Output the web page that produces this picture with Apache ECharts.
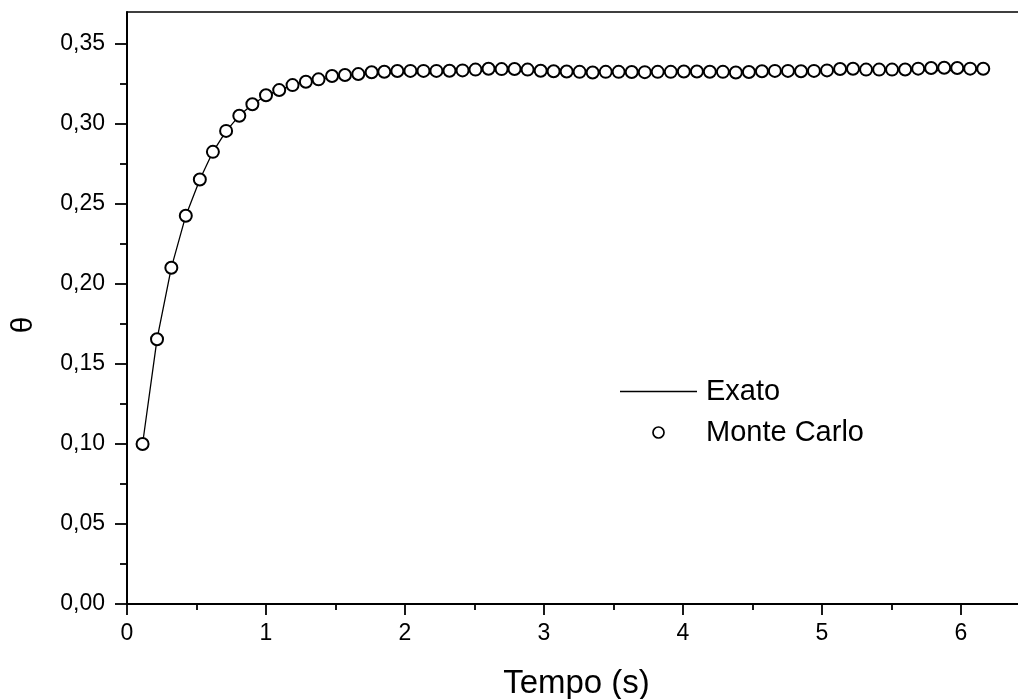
<!DOCTYPE html>
<html>
<head>
<meta charset="utf-8">
<script src="https://cdn.jsdelivr.net/npm/echarts@6/dist/echarts.min.js"></script>
<style>html,body{margin:0;padding:0;background:#fff}#c{width:1018px;height:699px}</style>
</head>
<body>
<div id="c"></div>
<script>
// Time values (s)
var tempo = [0.112,0.216,0.319,0.423,0.524,0.618,0.713,0.808,0.902,1.000,
  1.095,1.191,1.287,1.378,1.475,1.568,1.664,1.760,1.851,1.945,
  2.039,2.133,2.226,2.320,2.414,2.507,2.601,2.695,2.788,2.882,
  2.976,3.069,3.163,3.256,3.350,3.444,3.537,3.631,3.725,3.818,
  3.912,4.006,4.100,4.193,4.287,4.380,4.474,4.568,4.661,4.755,
  4.849,4.942,5.036,5.130,5.223,5.317,5.411,5.504,5.598,5.692,
  5.785,5.879,5.973,6.066,6.160];
// Monte Carlo values
var monteCarlo = [0.1000,0.1655,0.2102,0.2427,0.2653,0.2826,0.2957,0.3052,0.3123,0.3180,
  0.3212,0.3243,0.3264,0.3279,0.3300,0.3306,0.3312,0.3323,0.3327,0.3331,
  0.3332,0.3332,0.3332,0.3333,0.3335,0.3340,0.3345,0.3343,0.3344,0.3340,
  0.3333,0.3330,0.3328,0.3326,0.3322,0.3326,0.3326,0.3325,0.3324,0.3326,
  0.3326,0.3328,0.3328,0.3327,0.3326,0.3322,0.3325,0.3330,0.3332,0.3332,
  0.3330,0.3332,0.3335,0.3344,0.3345,0.3340,0.3340,0.3340,0.3341,0.3346,
  0.3350,0.3352,0.3350,0.3346,0.3345];
// Exact solution values
var exato = [0.1000,0.1655,0.2102,0.2427,0.2653,0.2826,0.2955,0.3052,0.3123,0.3177,
  0.3213,0.3242,0.3263,0.3279,0.3293,0.3303,0.3311,0.3317,0.3321,0.3324,
  0.3326,0.3328,0.3329,0.3330,0.3331,0.3331,0.3332,0.3332,0.3332,0.3332,
  0.3333,0.3333,0.3333,0.3333,0.3333,0.3333,0.3333,0.3333,0.3333,0.3333,
  0.3333,0.3333,0.3333,0.3333,0.3333,0.3333,0.3333,0.3333,0.3333,0.3333,
  0.3333,0.3333,0.3333,0.3333,0.3333,0.3333,0.3333,0.3333,0.3333,0.3333,
  0.3333,0.3333,0.3333,0.3333,0.3333];
var xMajorTicks = [0,1,2,3,4,5,6];
var xMinorTicks = [0.5,1.5,2.5,3.5,4.5,5.5];
var yMajorTicks = [0,0.05,0.10,0.15,0.20,0.25,0.30,0.35];
var yMinorTicks = [0.025,0.075,0.125,0.175,0.225,0.275,0.325];

var FONT = '"Liberation Sans", Arial, sans-serif';
var X_MAX = 6.41, Y_MAX = 0.37;
function pairs(xs, ys){ return xs.map(function(x,i){ return [x, ys[i]]; }); }

var chart = echarts.init(document.getElementById('c'), null, {renderer:'canvas'});
chart.setOption({
  animation: false,
  backgroundColor: '#fff',
  grid: {left:127, right:0, top:12, bottom:95, show:false, containLabel:false, outerBoundsMode:'none'},
  legend: {
    orient:'vertical', left:620, top:377, padding:0, itemWidth:77, itemHeight:11, itemGap:12,
    textStyle:{fontFamily:FONT, fontSize:29, color:'#000', padding:[0,0,0,4]},
    data:[
      {name:'Exato', icon:'path://M0,0 L77,0 L77,1.5 L0,1.5 Z', itemStyle:{color:'#000', borderWidth:0}},
      {name:'Monte Carlo', icon:'circle', itemStyle:{color:'#fff', borderColor:'#000', borderWidth:1.7}}
    ]
  },
  xAxis: [{
    type:'value', min:0, max:X_MAX, position:'bottom',
    name:'Tempo (s)', nameLocation:'middle', nameGap:63,
    nameTextStyle:{fontFamily:FONT, fontSize:33, color:'#000', padding:[0,0,0,8]},
    axisLine:{show:true, onZero:false, lineStyle:{color:'#000', width:2}},
    axisTick:{show:true, customValues:xMajorTicks, length:11, lineStyle:{color:'#000', width:1.8}},
    axisLabel:{customValues:xMajorTicks, fontFamily:FONT, fontSize:23, color:'#000', margin:18},
    splitLine:{show:false}
  },{
    type:'value', min:0, max:X_MAX, position:'bottom',
    axisLine:{show:false},
    axisTick:{show:true, customValues:xMinorTicks, length:6, lineStyle:{color:'#000', width:1.8}},
    axisLabel:{show:false},
    splitLine:{show:false}
  },{
    type:'value', min:0, max:X_MAX, position:'top',
    axisLine:{show:true, onZero:false, lineStyle:{color:'#000', width:1.5}},
    axisTick:{show:false}, axisLabel:{show:false}, splitLine:{show:false}
  }],
  yAxis: [{
    type:'value', min:0, max:Y_MAX, position:'left',
    name:'θ', nameLocation:'middle', nameGap:88, nameRotate:90,
    nameTextStyle:{fontFamily:FONT, fontSize:30, color:'#000', padding:[0,34,0,0]},
    axisLine:{show:true, onZero:false, lineStyle:{color:'#000', width:2}},
    axisTick:{show:true, customValues:yMajorTicks, length:12, lineStyle:{color:'#000', width:1.8}},
    axisLabel:{customValues:yMajorTicks, fontFamily:FONT, fontSize:23, color:'#000', margin:22,
      formatter:function(v){ return v.toFixed(2).replace('.', ','); }},
    splitLine:{show:false}
  },{
    type:'value', min:0, max:Y_MAX, position:'left',
    axisLine:{show:false},
    axisTick:{show:true, customValues:yMinorTicks, length:7, lineStyle:{color:'#000', width:1.8}},
    axisLabel:{show:false},
    splitLine:{show:false}
  }],
  series: [{
    name:'Exato', type:'line', xAxisIndex:0, yAxisIndex:0,
    data: pairs(tempo, exato), symbol:'none', showSymbol:false,
    lineStyle:{color:'#000', width:1.3}, itemStyle:{color:'#000'}, z:2
  },{
    name:'Monte Carlo', type:'scatter', xAxisIndex:0, yAxisIndex:0,
    data: pairs(tempo, monteCarlo), symbol:'circle', symbolSize:12,
    itemStyle:{color:'#fff', borderColor:'#000', borderWidth:2, opacity:1}, z:3
  }]
});
</script>
</body>
</html>
